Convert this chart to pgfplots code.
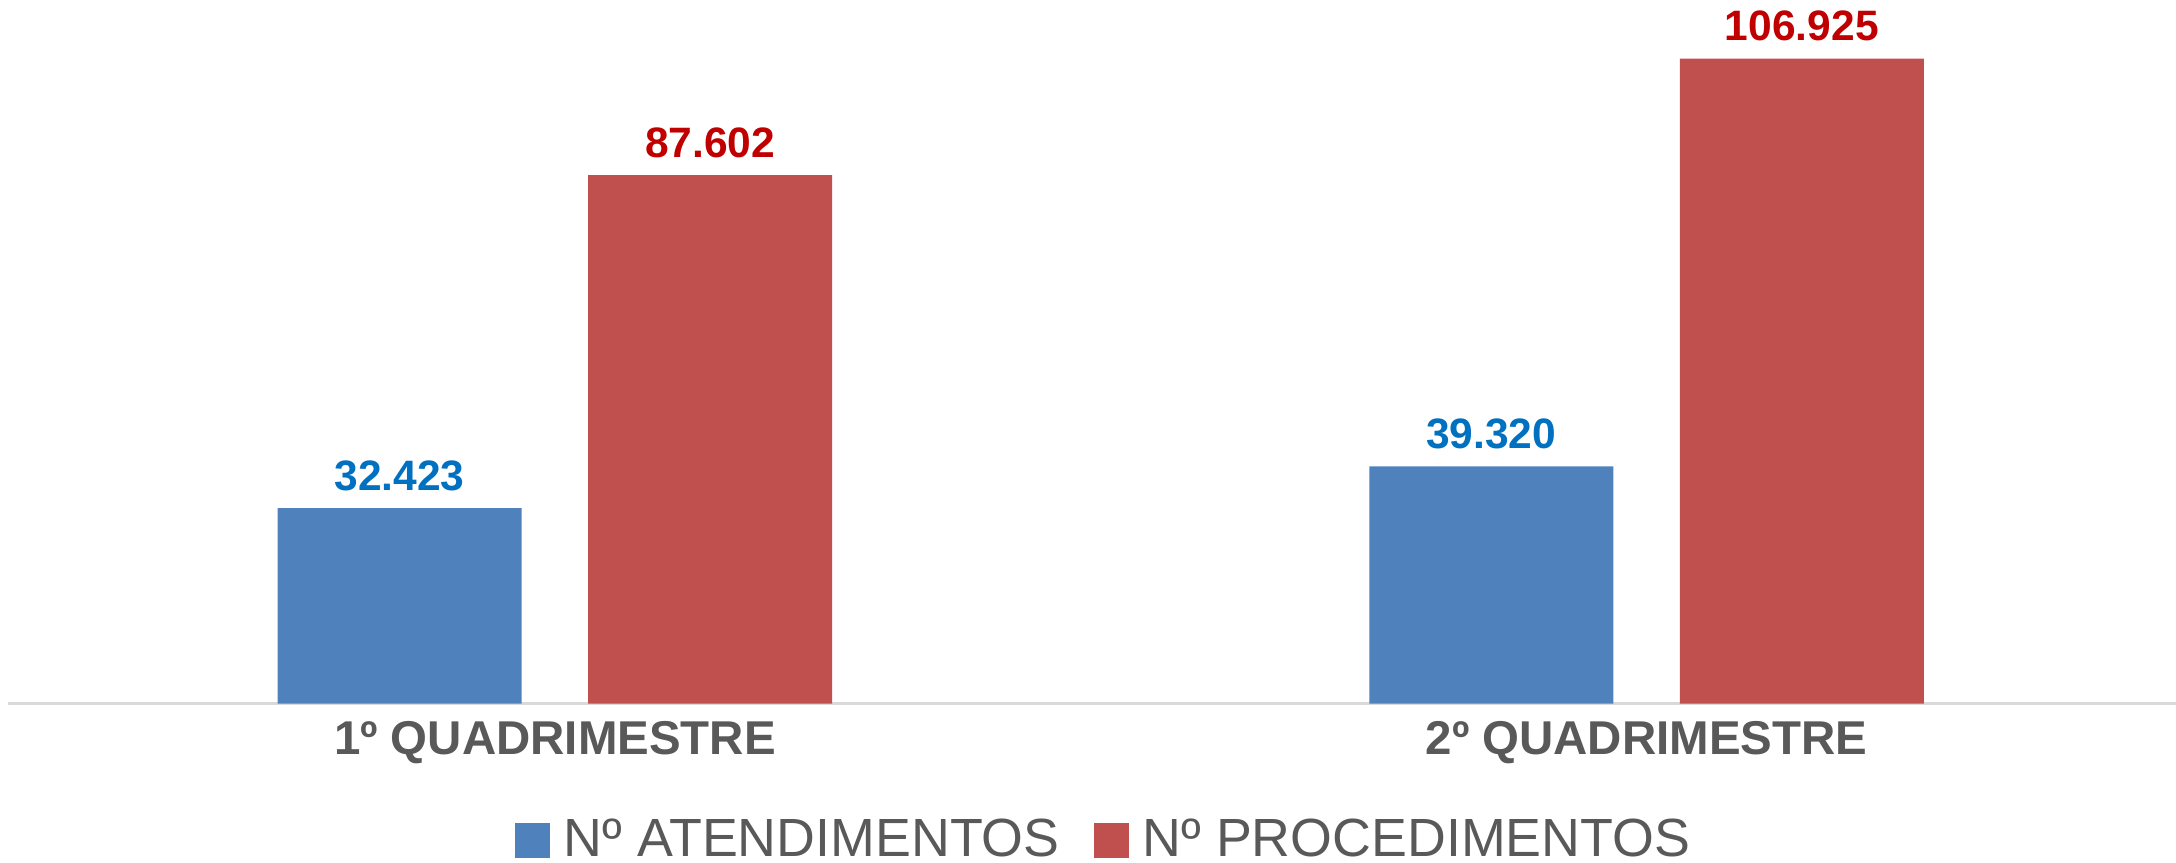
\documentclass[border=0pt]{standalone}
\usepackage{fontspec}
\setmainfont{Liberation Sans}
\usepackage{pgfplots}
\pgfplotsset{compat=1.18}
\definecolor{barblue}{HTML}{4F81BD}
\definecolor{barred}{HTML}{C0504D}
\definecolor{lblblue}{HTML}{0070C0}
\definecolor{lblred}{HTML}{C00000}
\definecolor{txtgray}{HTML}{595959}
\definecolor{axgray}{HTML}{D9D9D9}

\begin{document}
\begin{tikzpicture}
\begin{axis}[
    scale only axis,
    width=21.68cm, height=7.036cm,
    xmin=-0.501, xmax=1.485,
    ymin=0, ymax=116650,
    ybar=0.666cm, bar width=2.44cm,
    axis x line=bottom, axis y line=none,
    axis line style={draw=axgray, line width=0.7pt, -},
    xtick={0,1},
    xticklabels={1º QUADRIMESTRE, 2º QUADRIMESTRE},
    major tick length=0pt,
    x tick label style={font=\fontsize{13.5}{16}\selectfont\bfseries, text=txtgray, yshift=-0.05cm},
    /pgf/number format/.cd, 1000 sep={.}, fixed, assume math mode=true,
    /pgfplots/.cd,
    nodes near coords,
    nodes near coords style={font=\fontsize{12.1}{14}\selectfont\bfseries, yshift=0.05cm},
    legend columns=2,
    legend style={at={(0.5065,-0.1947)}, anchor=center, draw=none, fill=none,
        font=\fontsize{15.3}{18}\selectfont, text=txtgray,
        /tikz/every even column/.append style={column sep=0.27cm},
        /tikz/every odd column/.append style={column sep=0.07cm}},
    legend image code/.code={\fill[#1] (0cm,-0.175cm) rectangle (0.35cm,0.175cm);},
]
\addplot[fill=barblue, draw=none, nodes near coords style={text=lblblue}] coordinates {(0,32423) (1,39320)};
\addplot[fill=barred, draw=none, nodes near coords style={text=lblred}] coordinates {(0,87602) (1,106925)};
\legend{Nº ATENDIMENTOS, Nº PROCEDIMENTOS}
\end{axis}
\pgfresetboundingbox
\path (-0.08,-1.594) rectangle (21.68,7.036);
\end{tikzpicture}
\end{document}
